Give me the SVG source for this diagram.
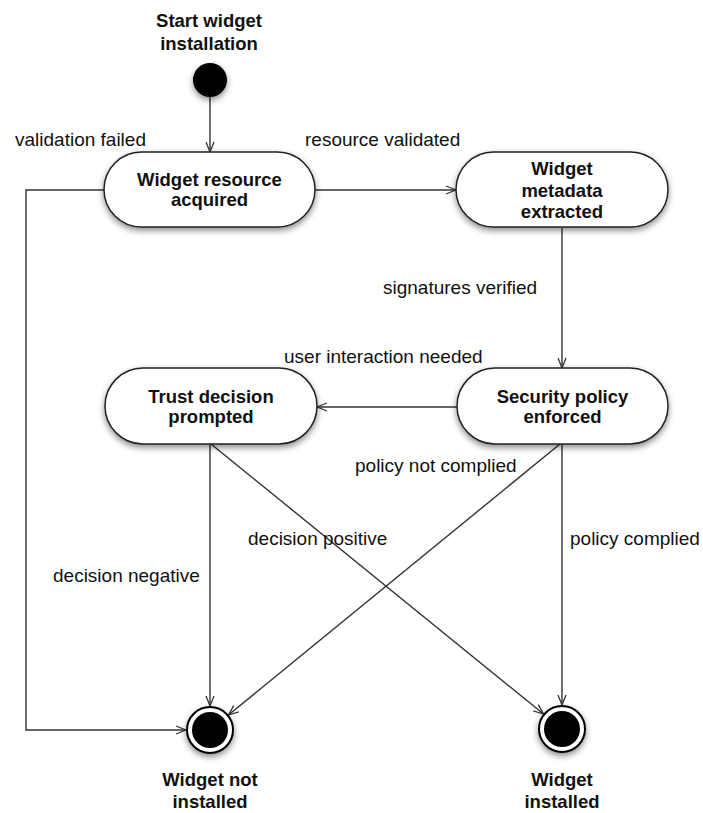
<svg xmlns="http://www.w3.org/2000/svg" width="703" height="813" viewBox="0 0 703 813">
<defs>
<filter id="sh" x="-20%" y="-20%" width="140%" height="150%">
<feDropShadow dx="0" dy="3" stdDeviation="3" flood-color="#000" flood-opacity="0.45"/>
</filter>
<marker id="arr" viewBox="0 0 12 10" refX="11" refY="5" markerWidth="12" markerHeight="10" markerUnits="userSpaceOnUse" orient="auto">
<path d="M1,1 L11,5 L1,9" fill="none" stroke="#333" stroke-width="1.3"/>
</marker>
</defs>
<style>
.node{fill:#fff;stroke:#222;stroke-width:1.5;filter:url(#sh)}
.nt{font-family:"Liberation Sans",Arial,sans-serif;font-size:18.5px;font-weight:bold;fill:#111;text-anchor:middle}
.lb{font-family:"Liberation Sans",Arial,sans-serif;font-size:19px;fill:#111}
.edge{fill:none;stroke:#333;stroke-width:1.4;marker-end:url(#arr)}
</style>
<rect width="703" height="813" fill="#fff"/>
<g id="connectors">
<line class="edge" x1="210" y1="97" x2="210" y2="152"/>
<line class="edge" x1="315" y1="190" x2="456" y2="190"/>
<line class="edge" x1="562" y1="228" x2="562" y2="368"/>
<line class="edge" x1="457" y1="407" x2="317" y2="407"/>
<line class="edge" x1="210" y1="444" x2="210" y2="706"/>
<line class="edge" x1="211" y1="444" x2="543.5" y2="714"/>
<line class="edge" x1="560" y1="444" x2="228.5" y2="715"/>
<line class="edge" x1="562" y1="444" x2="562" y2="705"/>
<polyline class="edge" points="105,190 26,190 26,730 186,730"/>
<text class="lb" x="15" y="146">validation failed</text>
<text class="lb" x="305" y="146">resource validated</text>
<text class="lb" x="383" y="294">signatures verified</text>
<text class="lb" x="284" y="363">user interaction needed</text>
<text class="lb" x="355" y="472">policy not complied</text>
<text class="lb" x="248" y="545">decision positive</text>
<text class="lb" x="570" y="545">policy complied</text>
<text class="lb" x="53" y="582">decision negative</text>
</g>
<g id="start">
<text class="nt" x="209" y="27">Start widget</text>
<text class="nt" x="209" y="50">installation</text>
<circle cx="210" cy="80" r="17" fill="#000" filter="url(#sh)"/>
</g>
<g id="resource">
<rect class="node" x="104" y="152" width="211" height="75" rx="37.5"/>
<text class="nt" x="209.5" y="186">Widget resource</text>
<text class="nt" x="209.5" y="206">acquired</text>
</g>
<g id="metadata">
<rect class="node" x="456" y="152" width="212" height="75" rx="37.5"/>
<text class="nt" x="562" y="175">Widget</text>
<text class="nt" x="562" y="196.5">metadata</text>
<text class="nt" x="562" y="218">extracted</text>
</g>
<g id="trust">
<rect class="node" x="105" y="368" width="212" height="76" rx="38"/>
<text class="nt" x="211" y="403">Trust decision</text>
<text class="nt" x="211" y="423">prompted</text>
</g>
<g id="security">
<rect class="node" x="457" y="368" width="211" height="76" rx="38"/>
<text class="nt" x="562.5" y="403">Security policy</text>
<text class="nt" x="562.5" y="423">enforced</text>
</g>
<g id="notinstalled">
<circle cx="210" cy="730" r="23" fill="#fff" stroke="#000" stroke-width="2" filter="url(#sh)"/>
<circle cx="210" cy="730" r="18" fill="#000"/>
<text class="nt" x="210" y="786">Widget not</text>
<text class="nt" x="210" y="808">installed</text>
</g>
<g id="installed">
<circle cx="562" cy="729" r="23" fill="#fff" stroke="#000" stroke-width="2" filter="url(#sh)"/>
<circle cx="562" cy="729" r="18" fill="#000"/>
<text class="nt" x="562" y="786">Widget</text>
<text class="nt" x="562" y="808">installed</text>
</g>
</svg>
